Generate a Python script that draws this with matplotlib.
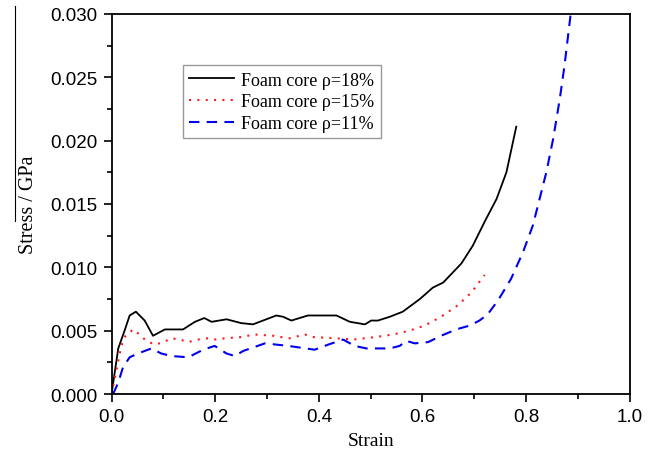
import matplotlib
matplotlib.use("Agg")
import matplotlib.pyplot as plt
from matplotlib.ticker import MultipleLocator
from matplotlib.lines import Line2D

# ---- data ----
strain_18 = [0.0, 0.013, 0.026, 0.035, 0.047, 0.064, 0.080, 0.103, 0.138, 0.161, 0.179,
             0.193, 0.222, 0.250, 0.273, 0.318, 0.331, 0.347, 0.379, 0.434, 0.460,
             0.489, 0.501, 0.514, 0.537, 0.562, 0.595, 0.620, 0.640, 0.675, 0.697,
             0.720, 0.743, 0.762, 0.781]
stress_18 = [0.0, 0.0036, 0.0051, 0.0062, 0.0065, 0.0058, 0.0046, 0.0051, 0.0051, 0.0057, 0.0060,
             0.0057, 0.0059, 0.0056, 0.0055, 0.0062, 0.0061, 0.0058, 0.0062, 0.0062, 0.0057,
             0.0055, 0.0058, 0.0058, 0.0061, 0.0065, 0.0075, 0.0084, 0.0088, 0.0103, 0.0117,
             0.0136, 0.0154, 0.0175, 0.0211]

strain_15 = [0.0, 0.010, 0.019, 0.027, 0.042, 0.051, 0.067, 0.084, 0.100, 0.116, 0.132,
             0.148, 0.167, 0.186, 0.202, 0.219, 0.250, 0.276, 0.312, 0.343, 0.373,
             0.389, 0.434, 0.466, 0.510, 0.543, 0.575, 0.604, 0.636, 0.668, 0.694, 0.720]
stress_15 = [0.0, 0.0020, 0.0038, 0.0046, 0.0051, 0.0048, 0.0042, 0.0039, 0.0041, 0.0044, 0.0043,
             0.0041, 0.0043, 0.0044, 0.0043, 0.0044, 0.0045, 0.0047, 0.0046, 0.0044, 0.0047,
             0.0045, 0.0044, 0.0043, 0.0045, 0.0047, 0.0050, 0.0054, 0.0061, 0.0070, 0.0080, 0.0094]

strain_11 = [0.003, 0.013, 0.022, 0.035, 0.051, 0.077, 0.096, 0.116, 0.148, 0.177, 0.199,
             0.222, 0.238, 0.254, 0.296, 0.341, 0.392, 0.418, 0.447, 0.469, 0.492,
             0.537, 0.556, 0.569, 0.585, 0.611, 0.636, 0.665, 0.691, 0.710, 0.726,
             0.746, 0.771, 0.794, 0.813, 0.826, 0.839, 0.852, 0.865, 0.874, 0.886]
stress_11 = [0.0, 0.0009, 0.0021, 0.0029, 0.0032, 0.0036, 0.0032, 0.0030, 0.0029, 0.0035, 0.0038,
             0.0032, 0.0030, 0.0034, 0.0040, 0.0038, 0.0035, 0.0039, 0.0043, 0.0038, 0.0036,
             0.0036, 0.0038, 0.0042, 0.0040, 0.0041, 0.0046, 0.0051, 0.0054, 0.0058, 0.0063,
             0.0074, 0.0091, 0.0112, 0.0133, 0.0154, 0.0175, 0.0201, 0.0233, 0.0259, 0.0300]

labels = ["Foam core \u03c1=18%", "Foam core \u03c1=15%", "Foam core \u03c1=11%"]
x_ticks = [0.0, 0.2, 0.4, 0.6, 0.8, 1.0]
y_ticks = [0.000, 0.005, 0.010, 0.015, 0.020, 0.025, 0.030]

# ---- figure ----
fig = plt.figure(figsize=(6.56, 4.52), dpi=100)
ax = fig.add_axes([0.170, 0.126, 0.790, 0.841])

ax.plot(strain_18, stress_18, color="black", lw=1.3, ls="-", label=labels[0])
ax.plot(strain_15, stress_15, color="#ff1a1a", lw=1.5, ls=(0, (1, 3)), label=labels[1])
ax.plot(strain_11, stress_11, color="#0000ee", lw=1.5, ls=(0, (5, 3.5)), label=labels[2])

ax.set_xlim(0, 1.0)
ax.set_ylim(0, 0.030)
ax.set_xticks(x_ticks)
ax.set_yticks(y_ticks)
ax.set_xticklabels([f"{v:.1f}" for v in x_ticks], family="Liberation Sans", fontsize=13.5)
ax.set_yticklabels([f"{v:.3f}" for v in y_ticks], family="Liberation Sans", fontsize=13.5)
ax.xaxis.set_minor_locator(MultipleLocator(0.1))
ax.yaxis.set_minor_locator(MultipleLocator(0.0025))
ax.tick_params(which="major", direction="out", length=6, width=1.2, pad=4)
ax.tick_params(which="minor", direction="out", length=3.5, width=1.2)
for s in ax.spines.values():
    s.set_linewidth(1.3)

ax.set_xlabel("Strain", family="Liberation Serif", fontsize=14, labelpad=5)
ax.set_ylabel("Stress / GPa", family="Liberation Serif", fontsize=14.5, labelpad=9)

leg = ax.legend(loc="upper left", bbox_to_anchor=(0.1375, 0.865), prop={"family": "Liberation Serif", "size": 13},
                frameon=True, fancybox=False, edgecolor="#808080", handlelength=2.5,
                handletextpad=0.4, labelspacing=0.26, borderpad=0.35, borderaxespad=0)
leg.get_frame().set_linewidth(1.0)

# stray vertical stroke beside the y label in the reference
fig.add_artist(Line2D([15 / 656, 15 / 656], [1 - 7 / 452, 1 - 222 / 452], color="black", lw=0.8))

fig.savefig("out.png", dpi=100)
